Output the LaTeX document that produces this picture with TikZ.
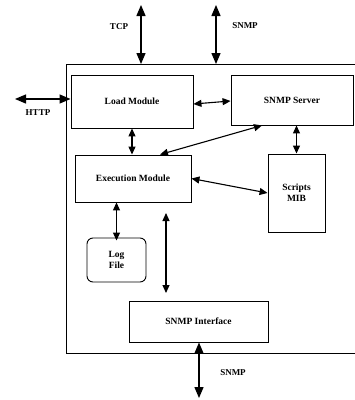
\documentclass[tikz,border=0pt]{standalone}
\usepackage{fontspec}
\setmainfont{Liberation Serif}
\usetikzlibrary{arrows.meta}
\begin{document}
\begin{tikzpicture}[x=1pt,y=-1pt,
  box/.style={draw,line width=0.9pt,inner sep=0pt,font=\fontsize{9.5}{11}\selectfont\bfseries,align=center},
  lbl/.style={font=\fontsize{9}{10}\selectfont\bfseries},
  dbl/.style={line width=1.1pt,{Triangle[length=8pt,width=7pt]}-{Triangle[length=8pt,width=7pt]}},
  bigdbl/.style={line width=1.3pt,{Triangle[length=11pt,width=9pt]}-{Triangle[length=11pt,width=9pt]}}]
\useasboundingbox (0,0) rectangle (355,400);
% outer frame
\draw[line width=0.9pt] (356,64) -- (66,64) -- (66,353) -- (356,353);
\node[box,minimum width=122pt,minimum height=53pt] (load) at (132,101.5) {Load Module};
\node[box,minimum width=122pt,minimum height=50pt] (server) at (292,100) {SNMP Server};
\node[box,minimum width=116pt,minimum height=47pt] (exec) at (133,178.5) {Execution Module};
\node[box,minimum width=57pt,minimum height=78pt] (scripts) at (296.5,193) {Scripts\\MIB};
\node[box,rounded corners=6pt,minimum width=59pt,minimum height=44pt] (log) at (116.5,260) {Log\\File};
\node[box,minimum width=139pt,minimum height=41pt] (iface) at (198.5,321.5) {SNMP Interface};
% free ends
\coordinate (tcpT) at (141,5);
\coordinate (tcpB) at (141,64);
\coordinate (snmpT) at (216,5);
\coordinate (snmpB) at (216,64);
\coordinate (http) at (15,99);
\coordinate (vT) at (166,213);
\coordinate (vB) at (166,293);
\coordinate (snmpD) at (199,398);
% labels
\node[lbl] (ltcp) at (119,27) {TCP};
\node[lbl] (lsnmp1) at (245,26) {SNMP};
\node[lbl] (lhttp) at (38,113) {HTTP};
\node[lbl] (lsnmp2) at (233,373) {SNMP};
% connectors
\draw[bigdbl] (tcpT) -- (tcpB);
\draw[bigdbl] (snmpT) -- (snmpB);
\draw[bigdbl] (http) -- (http -| load.west);
\draw[bigdbl] (iface.south -| snmpD) -- (snmpD);
\draw[dbl] ([yshift=-2.5pt]load.east) -- ([yshift=-1pt]server.west);
\draw[dbl] (load.south) -- (load.south |- exec.north);
\draw[dbl] ([xshift=-30pt]server.south) -- ([xshift=27pt]exec.north);
\draw[dbl] (scripts.north |- server.south) -- (scripts.north);
\draw[dbl] (exec.east) -- (scripts.west);
\draw[dbl] (log.north |- exec.south) -- ([yshift=-3pt]log.north);
\draw[dbl] (vT) -- (vB);
\end{tikzpicture}
\end{document}
